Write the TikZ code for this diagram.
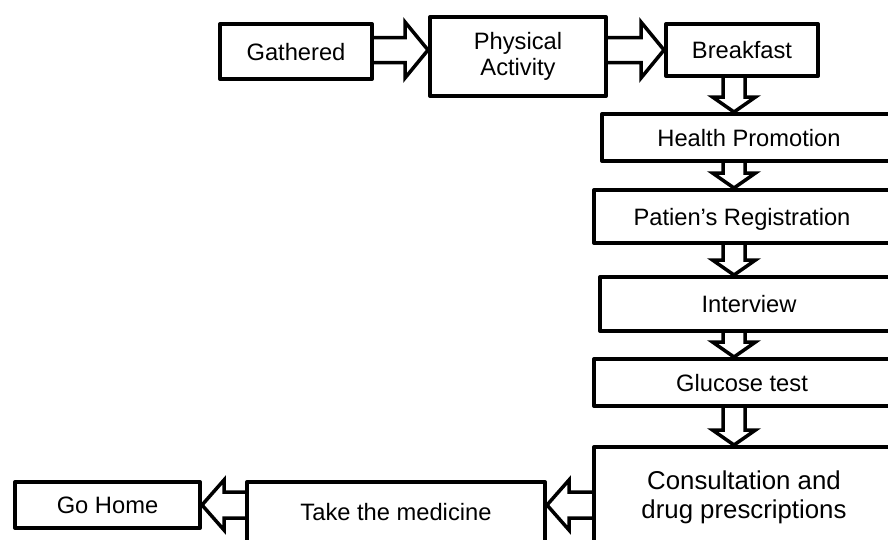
\documentclass[tikz,border=0pt]{standalone}
\usepackage{fontspec}
\setmainfont{Liberation Sans}
\usetikzlibrary{calc}
\tikzset{
  box/.style={draw, line width=4pt, line join=round, inner sep=0pt, align=center,
    font=\fontsize{23.7pt}{26pt}\selectfont},
  oneline/.style={text height=17pt, text depth=0pt},
  blk/.style={draw, line width=3.5pt, line join=miter},
}
\newcommand{\rarr}[3]{\draw[blk] let \p1=(#1), \p2=(#2), \p3=(#3) in
  (\x1,\y3+12.5pt) -- (\x2-23pt,\y3+12.5pt) -- (\x2-23pt,\y3+28pt) -- (\x2,\y3)
  -- (\x2-23pt,\y3-28pt) -- (\x2-23pt,\y3-12.5pt) -- (\x1,\y3-12.5pt);}
\newcommand{\darr}[3]{\draw[blk] let \p1=(#1), \p2=(#2), \p3=(#3) in
  (\x3-11pt,\y1) -- (\x3-11pt,\y2+15pt) -- (\x3-21.5pt,\y2+15pt) -- (\x3,\y2)
  -- (\x3+21.5pt,\y2+15pt) -- (\x3+11pt,\y2+15pt) -- (\x3+11pt,\y1);}
\newcommand{\larr}[3]{\draw[blk] let \p1=(#1), \p2=(#2), \p3=(#3) in
  (\x1,\y3+13pt) -- (\x2+22pt,\y3+13pt) -- (\x2+22pt,\y3+25pt) -- (\x2,\y3)
  -- (\x2+22pt,\y3-25pt) -- (\x2+22pt,\y3-13pt) -- (\x1,\y3-13pt);}
\begin{document}
\begin{tikzpicture}[x=1pt,y=-1pt]
\useasboundingbox (0,0) rectangle (888,539);
\clip (0,0) rectangle (888,539);
\fill[white] (0,0) rectangle (888,539);
% boxes
\node[box,oneline,minimum width=152pt,minimum height=55pt] (g) at (296,51.5) {Gathered};
\node[box,minimum width=176pt,minimum height=79pt] (p) at (518,56.5) {Physical\\Activity};
\node[box,oneline,minimum width=152pt,minimum height=52pt] (b) at (742,50) {Breakfast};
\node[box,oneline,minimum width=294pt,minimum height=47pt] (h) at (749,137.5) {Health Promotion};
\node[box,oneline,minimum width=296pt,minimum height=53pt] (r) at (742,216.5) {Patien’s Registration};
\node[box,oneline,minimum width=298pt,minimum height=54pt] (i) at (749,304) {Interview};
\node[box,oneline,minimum width=296pt,minimum height=47pt] (t) at (742,382.5) {Glucose test};
\node[box,minimum width=300pt,minimum height=100pt,
  font=\fontsize{25.8pt}{29pt}\selectfont] (c) at (744,497) {Consultation and\\drug prescriptions};
\node[box,oneline,minimum width=298pt,minimum height=60pt] (m) at (396,512) {Take the medicine};
\node[box,oneline,minimum width=185pt,minimum height=46pt] (o) at (107.5,505) {Go Home};
% reference levels
\coordinate (toprow) at (0,50);
\coordinate (axis) at (734,0);
\coordinate (botrow) at (0,505);
% connectors
\rarr{g.east}{p.west}{toprow}
\rarr{p.east}{b.west}{toprow}
\darr{b.south}{h.north}{axis}
\darr{h.south}{r.north}{axis}
\darr{r.south}{i.north}{axis}
\darr{i.south}{t.north}{axis}
\darr{t.south}{c.north}{axis}
\larr{c.west}{m.east}{botrow}
\larr{m.west}{o.east}{botrow}
\end{tikzpicture}
\end{document}
